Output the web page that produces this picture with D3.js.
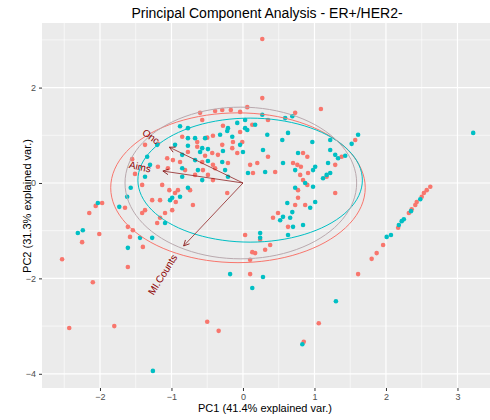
<!DOCTYPE html>
<html>
<head>
<meta charset="utf-8">
<script src="https://cdn.jsdelivr.net/npm/d3@7"></script>
<style>
  html, body { margin: 0; padding: 0; background: #fff; }
  svg { display: block; font-family: "Liberation Sans", Arial, sans-serif; }
</style>
</head>
<body>
<svg id="chart" width="490" height="420"></svg>
<script>
// PCA scores (PC1, PC2) for the two sample groups
const groupRed = [
  [0.27, 3.02], [0.27, 1.78], [1.09, 1.55], [-2.10, -2.08], [-2.43, -3.04], [-1.80, -3.00],
  [-0.50, -2.91], [-0.34, -3.10], [0.85, -3.33], [1.06, -2.94], [-2.53, -1.60], [-2.25, -1.24],
  [-2.01, -1.07], [-2.15, -0.63], [-2.06, -0.48], [-1.97, -0.42], [-1.65, -0.52], [-1.61, -0.92],
  [-1.54, -0.99], [-1.61, -1.76], [-1.55, 0.50],
  [1.61, -1.91], [1.80, -1.59], [1.87, -1.47], [1.96, -1.30], [2.17, -0.94], [2.32, -0.63],
  [2.36, -0.55], [2.41, -0.46], [2.43, -0.40], [2.50, -0.29], [2.53, -0.21], [2.57, -0.15], [2.62, -0.08],
  [-0.39, 1.51], [-0.29, 1.53], [-0.17, 1.53], [-0.04, 1.49], [-0.57, 1.32], [-0.28, 1.20],
  [-0.04, 1.07], [-0.42, 0.99], [-0.85, 0.97], [-0.50, 0.95], [-1.37, 0.80], [-1.19, 0.82],
  [-0.64, 0.86], [-0.64, 0.76], [-0.29, 0.80], [-0.14, 0.86], [-0.15, 0.73], [-0.01, 0.86],
  [-0.43, 0.63], [-0.35, 0.59], [-0.08, 0.63], [-0.77, 0.65], [-0.53, 0.57], [-1.06, 0.52],
  [-0.98, 0.48], [-0.88, 0.44], [-0.57, 0.44], [-0.42, 0.38], [-0.21, 0.42], [-1.19, 0.34],
  [-1.05, 0.31], [-0.39, 0.31], [-0.56, 0.27], [-0.81, 0.27], [-1.51, 0.19], [-0.67, 0.17],
  [-0.49, 0.17], [-0.42, 0.06], [-1.41, -0.04], [-1.13, -0.04], [-0.60, 1.47],
  [0.73, 1.47], [0.35, 1.32], [0.06, 1.59], [0.13, 1.22], [1.57, 0.90], [0.35, 0.55],
  [0.84, 0.63], [0.90, 0.55], [1.38, 0.55], [1.29, 0.38], [0.10, 0.38], [0.20, 0.42],
  [0.70, 0.42], [0.76, 0.38], [0.81, 0.34], [0.14, 0.21], [0.45, 0.23], [0.80, 0.17],
  [0.91, 0.21], [0.84, 0.06], [0.90, -0.04], [1.17, 0.13],
  [-0.91, -0.15], [-0.95, -0.21], [-1.27, -0.36], [-1.37, -0.57], [-1.41, -0.63], [-1.58, -1.13],
  [-1.20, -0.84], [-1.16, -0.73], [-1.09, -0.63], [-0.99, -0.57], [-0.70, -0.46], [-0.22, -0.21],
  [-1.40, -1.34], [0.03, -1.09], [0.24, -1.19], [0.13, -1.45], [0.17, -1.47], [0.31, -1.40],
  [0.38, -1.30], [0.10, -1.61], [0.10, -1.91], [0.49, -0.63], [0.42, -0.73], [0.77, -0.31],
  [0.87, -0.46], [0.73, -0.46], [0.63, -0.92], [0.77, -0.15], [1.29, -0.21], [-1.03, -0.15],
  [-0.74, -0.15], [-0.94, -0.40], [-1.16, -0.36]
];

const groupTeal = [
  [3.22, 1.05], [1.61, 1.01], [-1.26, -3.94], [0.13, -2.20], [0.83, -3.38], [1.30, -2.48],
  [-2.31, -1.05], [-2.24, -0.99], [-2.03, -0.42], [-1.73, -0.50], [-1.62, -0.29], [-1.57, -0.10],
  [-1.61, -1.36],
  [2.01, -1.13], [2.07, -1.09], [2.18, -0.88], [2.22, -0.80], [2.25, -0.76], [2.48, -0.34], [2.35, -0.59],
  [0.03, 1.32], [-0.08, 1.26], [-0.77, 1.15], [-0.21, 1.15], [0.03, 1.15], [-0.22, 1.09],
  [-0.32, 1.01], [-0.15, 0.97], [-0.77, 0.94], [-0.53, 0.94], [-0.67, 0.94], [-1.20, 0.80],
  [-0.95, 0.80], [-0.77, 0.78], [-0.57, 0.73], [-0.49, 0.71], [-0.04, 0.80], [-0.60, 0.65],
  [-0.28, 0.67], [0.00, 0.65], [-0.85, 0.59], [-1.34, 0.55], [-0.67, 0.48], [-0.49, 0.46],
  [-0.29, 0.44], [-1.30, 0.38], [-0.85, 0.31], [-0.63, 0.27], [-0.25, 0.27], [-1.37, 0.13],
  [-0.85, 0.13], [-0.57, 0.06], [-0.21, 0.13],
  [0.17, 1.22], [0.06, 1.11], [0.34, 1.01], [0.63, 1.05], [0.55, 0.90], [0.97, 0.86],
  [1.22, 0.90], [1.52, 0.82], [0.28, 0.69], [0.77, 0.63], [1.22, 0.69], [1.29, 0.59],
  [1.33, 0.52], [1.43, 0.57], [0.56, 0.42], [1.19, 0.42], [1.01, 0.34], [0.98, 0.27],
  [0.73, 0.27], [0.31, 0.23], [0.07, 0.21], [1.22, 0.21], [1.17, 0.17], [1.12, 0.10],
  [0.73, -0.10], [0.98, -0.08], [0.87, 0.00], [0.27, 1.43], [0.59, 1.36], [0.69, 1.40],
  [-0.88, 1.19],
  [-0.77, -0.10], [-1.02, -0.36], [-0.88, -0.29], [-1.44, -1.15], [-1.27, -1.15], [-1.09, -0.84],
  [0.24, -1.05], [0.24, -1.15], [0.63, -1.09], [0.52, -0.78], [0.56, -0.71], [0.69, -0.61],
  [0.66, -0.73], [0.70, -0.92], [0.84, -0.88], [0.62, -0.42], [0.94, -0.52], [1.01, -0.40],
  [-0.18, -1.91], [0.28, -1.97], [-0.99, -0.31]
];

// Variable loadings (arrows)
const loadingNames = ["Onc", "Aims", "MI.Counts"];
const loadingPC1 = [-1.03, -1.12, -0.83];
const loadingPC2 = [0.75, 0.25, -1.32];

// Normal data ellipses: centre, semi-axes (in score units)
const ellipseNames = ["red", "teal", "grey"];
const ellipseCX = [-0.07, 0.10, -0.03];
const ellipseCY = [-0.10, 0.06, 0.00];
const ellipseRX = [1.78, 1.57, 1.62];
const ellipseRY = [1.57, 1.30, 1.59];

const xTicks = [-2, -1, 0, 1, 2, 3];
const xMinor = [-2.5, -1.5, -0.5, 0.5, 1.5, 2.5, 3.5];
const yTicks = [-4, -2, 0, 2];
const yMinor = [-3, -1, 1, 3];

const titleText = "Principal Component Analysis - ER+/HER2-";
const xTitle = "PC1 (41.4% explained var.)";
const yTitle = "PC2 (31.3% explained var.)";

const colors = { red: "#F8766D", teal: "#00BFC4", grey: "#B9A9AE" };

const svg = d3.select("#chart");
const panel = { left: 42, top: 23, right: 490, bottom: 388 };

const x = d3.scaleLinear().domain([-2.811, 3.455]).range([panel.left, panel.right]);
const y = d3.scaleLinear().domain([-4.298, 3.354]).range([panel.bottom, panel.top]);

// Panel background
svg.append("rect")
  .attr("x", panel.left).attr("y", panel.top)
  .attr("width", panel.right - panel.left).attr("height", panel.bottom - panel.top)
  .attr("fill", "#EBEBEB");

const grid = svg.append("g");
grid.selectAll(".vmin").data(xMinor).join("line")
  .attr("x1", d => x(d)).attr("x2", d => x(d))
  .attr("y1", panel.top).attr("y2", panel.bottom)
  .attr("stroke", "#fff").attr("stroke-width", 0.6);
grid.selectAll(".hmin").data(yMinor).join("line")
  .attr("y1", d => y(d)).attr("y2", d => y(d))
  .attr("x1", panel.left).attr("x2", panel.right)
  .attr("stroke", "#fff").attr("stroke-width", 0.6);
grid.selectAll(".vmaj").data(xTicks).join("line")
  .attr("x1", d => x(d)).attr("x2", d => x(d))
  .attr("y1", panel.top).attr("y2", panel.bottom)
  .attr("stroke", "#fff").attr("stroke-width", 1.2);
grid.selectAll(".hmaj").data(yTicks).join("line")
  .attr("y1", d => y(d)).attr("y2", d => y(d))
  .attr("x1", panel.left).attr("x2", panel.right)
  .attr("stroke", "#fff").attr("stroke-width", 1.2);

// Axes
const xAxis = d3.axisBottom(x).tickValues(xTicks).tickSize(3).tickPadding(3).tickFormat(d3.format("d"));
const yAxis = d3.axisLeft(y).tickValues(yTicks).tickSize(3).tickPadding(3).tickFormat(d3.format("d"));

const gx = svg.append("g").attr("transform", `translate(0,${panel.bottom})`).call(xAxis);
const gy = svg.append("g").attr("transform", `translate(${panel.left},0)`).call(yAxis);
[gx, gy].forEach(g => {
  g.select(".domain").remove();
  g.selectAll(".tick line").attr("stroke", "#333").attr("stroke-width", 1);
  g.selectAll(".tick text").attr("fill", "#4D4D4D").style("font-size", "9px")
    .style("font-family", "'Liberation Sans', Arial, sans-serif");
});

// Clip to the panel
svg.append("clipPath").attr("id", "panelClip").append("rect")
  .attr("x", panel.left).attr("y", panel.top)
  .attr("width", panel.right - panel.left).attr("height", panel.bottom - panel.top);
const plot = svg.append("g").attr("clip-path", "url(#panelClip)");

// Points
plot.append("g").selectAll("circle").data(groupRed).join("circle")
  .attr("cx", d => x(d[0])).attr("cy", d => y(d[1])).attr("r", 2.3)
  .attr("fill", colors.red);
plot.append("g").selectAll("circle").data(groupTeal).join("circle")
  .attr("cx", d => x(d[0])).attr("cy", d => y(d[1])).attr("r", 2.3)
  .attr("fill", colors.teal);

// Ellipses
const ellipseData = ellipseNames.map((n, i) => ({
  name: n, cx: ellipseCX[i], cy: ellipseCY[i], rx: ellipseRX[i], ry: ellipseRY[i]
}));
const ellLine = d3.line().x(p => x(p[0])).y(p => y(p[1]));
plot.append("g").selectAll("path").data(ellipseData).join("path")
  .attr("d", e => ellLine(d3.range(0, 101).map(k => {
    const t = (k / 100) * 2 * Math.PI;
    return [e.cx + e.rx * Math.cos(t), e.cy + e.ry * Math.sin(t)];
  })))
  .attr("fill", "none")
  .attr("stroke", e => colors[e.name])
  .attr("stroke-width", 1);

// Loading arrows
const defs = svg.append("defs");
defs.append("marker").attr("id", "arrowHead")
  .attr("viewBox", "0 0 10 10").attr("refX", 9).attr("refY", 5)
  .attr("markerWidth", 7).attr("markerHeight", 7).attr("orient", "auto")
  .attr("markerUnits", "userSpaceOnUse")
  .append("path").attr("d", "M1,1 L9,5 L1,9")
  .attr("fill", "none").attr("stroke", "#8B1A1A").attr("stroke-width", 1.2);

const loadings = loadingNames.map((n, i) => ({ name: n, pc1: loadingPC1[i], pc2: loadingPC2[i] }));
plot.append("g").selectAll("line").data(loadings).join("line")
  .attr("x1", x(0)).attr("y1", y(0))
  .attr("x2", d => x(d.pc1)).attr("y2", d => y(d.pc2))
  .attr("stroke", "#8B1A1A").attr("stroke-opacity", 0.85).attr("stroke-width", 0.9)
  .attr("marker-end", "url(#arrowHead)");

const labelAdjust = 1.15;
plot.append("g").selectAll("text").data(loadings).join("text")
  .attr("transform", d => {
    const ang = Math.atan(d.pc2 / d.pc1) * 180 / Math.PI;
    return `translate(${x(d.pc1 * labelAdjust)},${y(d.pc2 * labelAdjust)}) rotate(${-ang})`;
  })
  .attr("text-anchor", d => d.pc1 < 0 ? "end" : "start")
  .attr("dy", "0.35em")
  .attr("fill", "#8B0000")
  .style("font-size", "10px")
  .text(d => d.name);

// Titles
svg.append("text").attr("x", 267).attr("y", 18).attr("text-anchor", "middle")
  .style("font-size", "14px").attr("fill", "#000").text(titleText);
svg.append("text").attr("x", 265).attr("y", 412).attr("text-anchor", "middle")
  .style("font-size", "11px").attr("fill", "#000").text(xTitle);
svg.append("text").attr("transform", "translate(31,206) rotate(-90)").attr("text-anchor", "middle")
  .style("font-size", "11px").attr("fill", "#000").text(yTitle);
</script>
</body>
</html>
